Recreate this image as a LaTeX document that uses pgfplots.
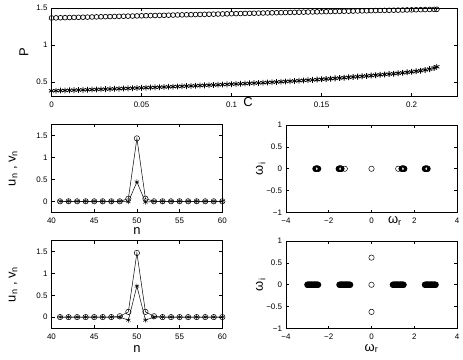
\documentclass[border=0pt]{standalone}
\usepackage{fontspec}
\setmainfont{Liberation Sans}
\usepackage{pgfplots}
\pgfplotsset{compat=1.18}
\pgfplotsset{
  mystyle/.style={
    scale only axis, anchor=south west, clip=false,
    axis line style={black, line width=0.6pt},
    every tick/.style={black, line width=0.6pt},
    major tick length=3bp,
    tick align=inside,
    scaled ticks=false,
    /pgf/number format/assume math mode=true,
    tick label style={font=\fontsize{8}{9}\selectfont},
    xticklabel style={yshift=-2bp},
    yticklabel style={xshift=-0.5bp},
    label style={font=\fontsize{13}{14}\selectfont, inner sep=0pt},
  },
  circ/.style={black, mark=o, mark size=2.4bp, line width=0.65pt, mark options={solid}},
  ast/.style={black, mark=asterisk, mark size=2.9bp, line width=0.8pt, mark options={solid}},
  band/.style={black, mark=o, mark size=2.7bp, line width=0.9pt, only marks},
}
\begin{document}
\begin{tikzpicture}[x=1bp,y=1bp]
\useasboundingbox (0,0) rectangle (463,359);

% ---------------- top panel ----------------
\begin{axis}[mystyle, at={(51.5bp,263bp)}, width=405.5bp, height=88bp,
  xmin=0, xmax=0.2252, ymin=0.31, ymax=1.5,
  xtick={0,0.05,0.1,0.15,0.2}, xticklabels={0,0.05,0.1,0.15,0.2},
  ytick={0.5,1,1.5}, yticklabels={0.5,1,1.5},
  xlabel={C}, xlabel style={at={(axis description cs:0.485,0)}, anchor=north, yshift=-1.5bp},
  ylabel={P}, ylabel style={at={(axis description cs:-0.068,0.5)}, anchor=center},
]
\addplot[circ, only marks] coordinates {
(0,1.365) (0.0025,1.3665) (0.005,1.368) (0.0075,1.3695) (0.01,1.371) (0.0125,1.3725)
(0.015,1.3739) (0.0175,1.3754) (0.02,1.3769) (0.0225,1.3784) (0.025,1.3798) (0.0275,1.3813)
(0.03,1.3828) (0.0325,1.3842) (0.035,1.3857) (0.0375,1.3871) (0.04,1.3886) (0.0425,1.39)
(0.045,1.3915) (0.0475,1.3929) (0.05,1.3944) (0.0525,1.3958) (0.055,1.3972) (0.0575,1.3987)
(0.06,1.4001) (0.0625,1.4015) (0.065,1.4029) (0.0675,1.4044) (0.07,1.4058) (0.0725,1.4072)
(0.075,1.4086) (0.0775,1.41) (0.08,1.4114) (0.0825,1.4128) (0.085,1.4142) (0.0875,1.4156)
(0.09,1.417) (0.0925,1.4184) (0.095,1.4197) (0.0975,1.4211) (0.1,1.4225) (0.1025,1.4239)
(0.105,1.4252) (0.1075,1.4266) (0.11,1.428) (0.1125,1.4293) (0.115,1.4307) (0.1175,1.432)
(0.12,1.4334) (0.1225,1.4347) (0.125,1.4361) (0.1275,1.4374) (0.13,1.4388) (0.1325,1.4401)
(0.135,1.4414) (0.1375,1.4428) (0.14,1.4441) (0.1425,1.4454) (0.145,1.4467) (0.1475,1.4481)
(0.15,1.4494) (0.1525,1.4507) (0.155,1.452) (0.1575,1.4533) (0.16,1.4546) (0.1625,1.4559)
(0.165,1.4572) (0.1675,1.4585) (0.17,1.4598) (0.1725,1.4611) (0.175,1.4623) (0.1775,1.4636)
(0.18,1.4649) (0.1825,1.4662) (0.185,1.4674) (0.1875,1.4687) (0.19,1.47) (0.1925,1.4712)
(0.195,1.4725) (0.1975,1.4737) (0.2,1.475) (0.2025,1.4762) (0.205,1.4775) (0.2075,1.4787)
(0.21,1.48) (0.2125,1.4812) (0.214,1.482)
};
\addplot[ast, only marks] coordinates {
(0,0.38) (0.0025,0.3818) (0.005,0.3836) (0.0075,0.3854) (0.01,0.3872) (0.0125,0.3891)
(0.015,0.391) (0.0175,0.3929) (0.02,0.3948) (0.0225,0.3968) (0.025,0.3988) (0.0275,0.4008)
(0.03,0.4028) (0.0325,0.4049) (0.035,0.407) (0.0375,0.4091) (0.04,0.4112) (0.0425,0.4134)
(0.045,0.4156) (0.0475,0.4178) (0.05,0.42) (0.0525,0.4223) (0.055,0.4246) (0.0575,0.4269)
(0.06,0.4292) (0.0625,0.4316) (0.065,0.434) (0.0675,0.4364) (0.07,0.4388) (0.0725,0.4413)
(0.075,0.4438) (0.0775,0.4463) (0.08,0.4488) (0.0825,0.4514) (0.085,0.454) (0.0875,0.4566)
(0.09,0.4592) (0.0925,0.4619) (0.095,0.4646) (0.0975,0.4673) (0.1,0.47) (0.1025,0.4728)
(0.105,0.4756) (0.1075,0.4784) (0.11,0.4812) (0.1125,0.4841) (0.115,0.487) (0.1175,0.4899)
(0.12,0.4928) (0.1225,0.4963) (0.125,0.4998) (0.1275,0.503) (0.13,0.5063) (0.1325,0.5099)
(0.135,0.5135) (0.1375,0.5171) (0.14,0.5207) (0.1425,0.5244) (0.145,0.5281) (0.1475,0.5318)
(0.15,0.536) (0.1525,0.54) (0.155,0.5442) (0.1575,0.5483) (0.16,0.5529) (0.1625,0.5577)
(0.165,0.5625) (0.1675,0.5674) (0.17,0.5719) (0.1725,0.5766) (0.175,0.5814) (0.1775,0.5863)
(0.18,0.5919) (0.1825,0.5966) (0.185,0.6015) (0.1875,0.6066) (0.19,0.612) (0.1925,0.6177)
(0.195,0.6237) (0.1975,0.63) (0.2,0.6369) (0.2025,0.6444) (0.205,0.6527) (0.2075,0.6623)
(0.21,0.6737) (0.2125,0.6891) (0.214,0.7045)
};
\end{axis}

% ---------------- middle left ----------------
\begin{axis}[mystyle, at={(51.5bp,146.7bp)}, width=170.8bp, height=88bp,
  xmin=40, xmax=60, ymin=-0.25, ymax=1.75,
  xtick={40,45,50,55,60}, ytick={0,0.5,1,1.5}, yticklabels={0,0.5,1,1.5},
  xlabel={n}, xlabel style={at={(axis description cs:0.5,-0.21)}, anchor=center},
  ylabel={u\textsubscript{n} , v\textsubscript{n}}, ylabel style={at={(axis description cs:-0.225,0.5)}, anchor=center},
]
\addplot[circ, mark size=2.7bp, line width=0.5pt] coordinates {
(41,0) (42,0) (43,0) (44,0) (45,0) (46,0) (47,0) (48,0) (49,0.06) (50,1.43)
(51,0.06) (52,0) (53,0) (54,0) (55,0) (56,0) (57,0) (58,0) (59,0) (60,0)
};
\addplot[ast, mark size=2.5bp, line width=0.5pt] coordinates {
(41,0) (42,0) (43,0) (44,0) (45,0) (46,0) (47,0) (48,0) (49,-0.01) (50,0.44)
(51,-0.02) (52,0) (53,0) (54,0) (55,0) (56,0) (57,0) (58,0) (59,0) (60,0)
};
\end{axis}

% ---------------- bottom left ----------------
\begin{axis}[mystyle, at={(51.5bp,31bp)}, width=170.8bp, height=87.3bp,
  xmin=40, xmax=60, ymin=-0.25, ymax=1.75,
  xtick={40,45,50,55,60}, ytick={0,0.5,1,1.5}, yticklabels={0,0.5,1,1.5},
  xlabel={n}, xlabel style={at={(axis description cs:0.5,-0.235)}, anchor=center},
  ylabel={u\textsubscript{n} , v\textsubscript{n}}, ylabel style={at={(axis description cs:-0.225,0.5)}, anchor=center},
]
\addplot[circ, mark size=2.7bp, line width=0.5pt] coordinates {
(41,0) (42,0) (43,0) (44,0) (45,0) (46,0) (47,0) (48,0.02) (49,0.12) (50,1.47)
(51,0.12) (52,0.02) (53,0) (54,0) (55,0) (56,0) (57,0) (58,0) (59,0) (60,0)
};
\addplot[ast, mark size=2.5bp, line width=0.5pt] coordinates {
(41,0) (42,0) (43,0) (44,0) (45,0) (46,0) (47,0) (48,0) (49,-0.07) (50,0.71)
(51,-0.07) (52,0) (53,0) (54,0) (55,0) (56,0) (57,0) (58,0) (59,0) (60,0)
};
\end{axis}

% ---------------- middle right ----------------
\begin{axis}[mystyle, at={(286bp,146.5bp)}, width=171bp, height=87.5bp,
  xmin=-4, xmax=4, ymin=-1, ymax=1,
  xtick={-4,-2,0,2,4}, ytick={-1,-0.5,0,0.5,1}, yticklabels={−1,−0.5,0,0.5,1},
  xticklabels={−4,−2,0,2,4},
  xlabel={ω\textsubscript{r}}, xlabel style={at={(axis description cs:0.637,0)}, anchor=north, yshift=-4bp},
  ylabel={ω\textsubscript{i}}, ylabel style={at={(axis description cs:-0.148,0.5)}, anchor=center},
]
\addplot[band] coordinates {
(-2.62,0) (-2.6,0) (-2.58,0) (-2.56,0) (-2.54,0) (-2.52,0) (-2.5,0)
(-1.53,0) (-1.51,0) (-1.49,0) (-1.47,0) (-1.45,0) (-1.43,0) (-1.41,0)
(1.41,0) (1.43,0) (1.45,0) (1.47,0) (1.49,0) (1.51,0) (1.53,0)
(2.5,0) (2.52,0) (2.54,0) (2.56,0) (2.58,0) (2.6,0) (2.62,0)
};
\addplot[circ, only marks, mark size=2.7bp, line width=0.5pt] coordinates {
(-1.25,0) (0,0) (1.25,0)
};
\end{axis}

% ---------------- bottom right ----------------
\begin{axis}[mystyle, at={(286bp,30.5bp)}, width=171bp, height=87.5bp,
  xmin=-4, xmax=4, ymin=-1, ymax=1,
  xtick={-4,-2,0,2,4}, ytick={-1,-0.5,0,0.5,1}, yticklabels={−1,−0.5,0,0.5,1},
  xticklabels={−4,−2,0,2,4},
  xlabel={ω\textsubscript{r}}, xlabel style={at={(axis description cs:0.5,0)}, anchor=north, yshift=-15.5bp},
  ylabel={ω\textsubscript{i}}, ylabel style={at={(axis description cs:-0.148,0.5)}, anchor=center},
]
\addplot[band] coordinates {
(-3,0) (-2.975,0) (-2.95,0) (-2.925,0) (-2.9,0) (-2.875,0) (-2.85,0) (-2.825,0) (-2.8,0) (-2.775,0) (-2.75,0)
(-2.725,0) (-2.7,0) (-2.675,0) (-2.65,0) (-2.625,0) (-2.6,0) (-2.575,0) (-2.55,0) (-2.525,0) (-2.5,0)
(-1.5,0) (-1.475,0) (-1.45,0) (-1.425,0) (-1.4,0) (-1.375,0) (-1.35,0) (-1.325,0) (-1.3,0) (-1.275,0) (-1.25,0)
(-1.225,0) (-1.2,0) (-1.175,0) (-1.15,0) (-1.125,0) (-1.1,0) (-1.075,0) (-1.05,0) (-1.025,0) (-1,0)
(1,0) (1.025,0) (1.05,0) (1.075,0) (1.1,0) (1.125,0) (1.15,0) (1.175,0) (1.2,0) (1.225,0) (1.25,0)
(1.275,0) (1.3,0) (1.325,0) (1.35,0) (1.375,0) (1.4,0) (1.425,0) (1.45,0) (1.475,0) (1.5,0)
(2.5,0) (2.525,0) (2.55,0) (2.575,0) (2.6,0) (2.625,0) (2.65,0) (2.675,0) (2.7,0) (2.725,0) (2.75,0)
(2.775,0) (2.8,0) (2.825,0) (2.85,0) (2.875,0) (2.9,0) (2.925,0) (2.95,0) (2.975,0) (3,0)
};
\addplot[circ, only marks, mark size=2.7bp, line width=0.5pt] coordinates {
(0,0.62) (0,0) (0,-0.62)
};
\end{axis}
\end{tikzpicture}
\end{document}
